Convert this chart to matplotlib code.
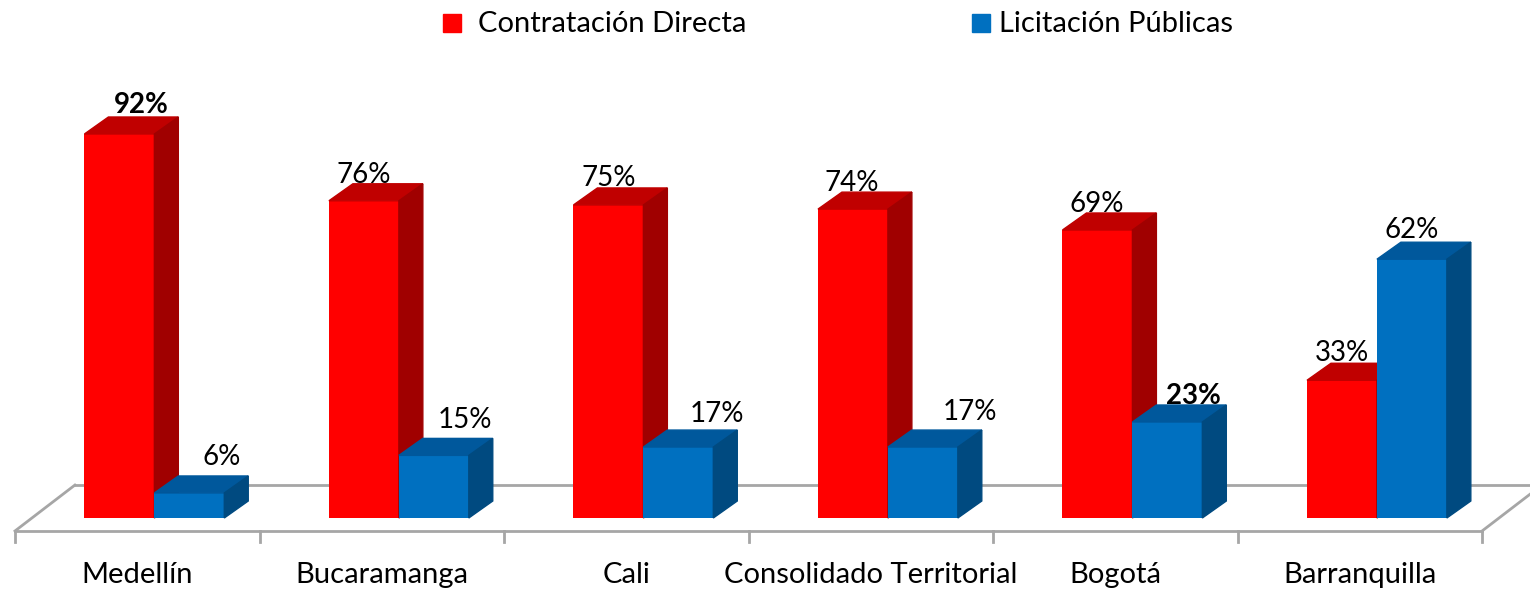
import matplotlib.pyplot as plt
from matplotlib.patches import Polygon, Rectangle

plt.rcParams['font.family'] = ['Lato', 'DejaVu Sans']

ciudades = ["Medellín", "Bucaramanga", "Cali", "Consolidado Territorial", "Bogotá", "Barranquilla"]
directa = [92, 76, 75, 74, 69, 33]
licitacion = [6, 15, 17, 17, 23, 62]
negrita_directa = [True, False, False, False, False, False]
negrita_licit = [False, False, False, False, True, False]

# ajustes de posición de las etiquetas (px), como en el original
dx_directa = [22, 0, 0, -1, -1, 0]
dy_directa = [4, 1, 2, 1, 1, 2]
dx_licit = [32, 31, 39, 47, 26, 0]
dy_licit = [11, 10, 8, 10, 1, 4]

# colores: frente, arriba, lado
rojo = ("#FF0000", "#C00000", "#A00000")
azul = ("#0070C0", "#00589C", "#004A80")

W, H = 1530, 591
fig = plt.figure(figsize=(W / 100, H / 100), dpi=100)
ax = fig.add_axes([0, 0, 1, 1])
ax.set_xlim(-0.0613, 6.196)
ax.set_ylim(-17.49, 124.1)
ax.axis("off")
px_x = 244.5   # px por unidad x
px_y = 4.174   # px por %

# profundidad (en unidades de datos)
ddx, ddy = 0.098, 4.07
fdx, fdy = 0.245, 11.0
piso_y = -3.11
ancho = 0.286
desp = 0.07

# piso
gris = "#A6A6A6"
n = len(ciudades)
ax.plot([0, n], [piso_y, piso_y], color=gris, lw=2)
ax.plot([fdx, n + fdx], [piso_y + fdy, piso_y + fdy], color=gris, lw=2)
ax.plot([0, fdx], [piso_y, piso_y + fdy], color=gris, lw=2)
ax.plot([n, n + fdx], [piso_y, piso_y + fdy], color=gris, lw=2)
for i in range(n + 1):
    ax.plot([i, i], [piso_y, -5.75], color=gris, lw=2)


def barra3d(x0, h, cols):
    frente, arriba, lado = cols
    ax.bar(x0, h, width=ancho, align="edge", color=frente, zorder=3)
    ax.add_patch(Polygon([(x0, h), (x0 + ddx, h + ddy), (x0 + ancho + ddx, h + ddy), (x0 + ancho, h)],
                         closed=True, color=arriba, zorder=3))
    ax.add_patch(Polygon([(x0 + ancho, 0), (x0 + ancho + ddx, ddy), (x0 + ancho + ddx, h + ddy), (x0 + ancho, h)],
                         closed=True, color=lado, zorder=3))


def etiqueta(x0, h, negrita, dx, dy):
    ax.text(x0 + ancho / 2 + dx / px_x, h + ddy + dy / px_y, f"{h}%", ha="center", va="baseline",
            fontsize=20, fontweight="bold" if negrita else "normal", zorder=5)


for i in range(n):
    xr = i + 0.5 + desp - ancho
    xb = i + 0.5 + desp
    barra3d(xr, directa[i], rojo)
    barra3d(xb, licitacion[i], azul)
    etiqueta(xr, directa[i], negrita_directa[i], dx_directa[i], dy_directa[i])
    etiqueta(xb, licitacion[i], negrita_licit[i], dx_licit[i], dy_licit[i])
    ax.text(i + 0.5, -15.57, ciudades[i], ha="center", va="baseline", fontsize=21)

# leyenda
for x0, col, txt, xt in [(443, rojo[0], "Contratación Directa", 478),
                         (972, azul[0], "Licitación Públicas", 999)]:
    fig.patches.append(Rectangle((x0 / W, (H - 32) / H), 18 / W, 18 / H,
                                 transform=fig.transFigure, color=col, figure=fig))
    fig.text(xt / W, (H - 32) / H, txt, ha="left", va="baseline", fontsize=21)

fig.savefig("out.png", dpi=100)
